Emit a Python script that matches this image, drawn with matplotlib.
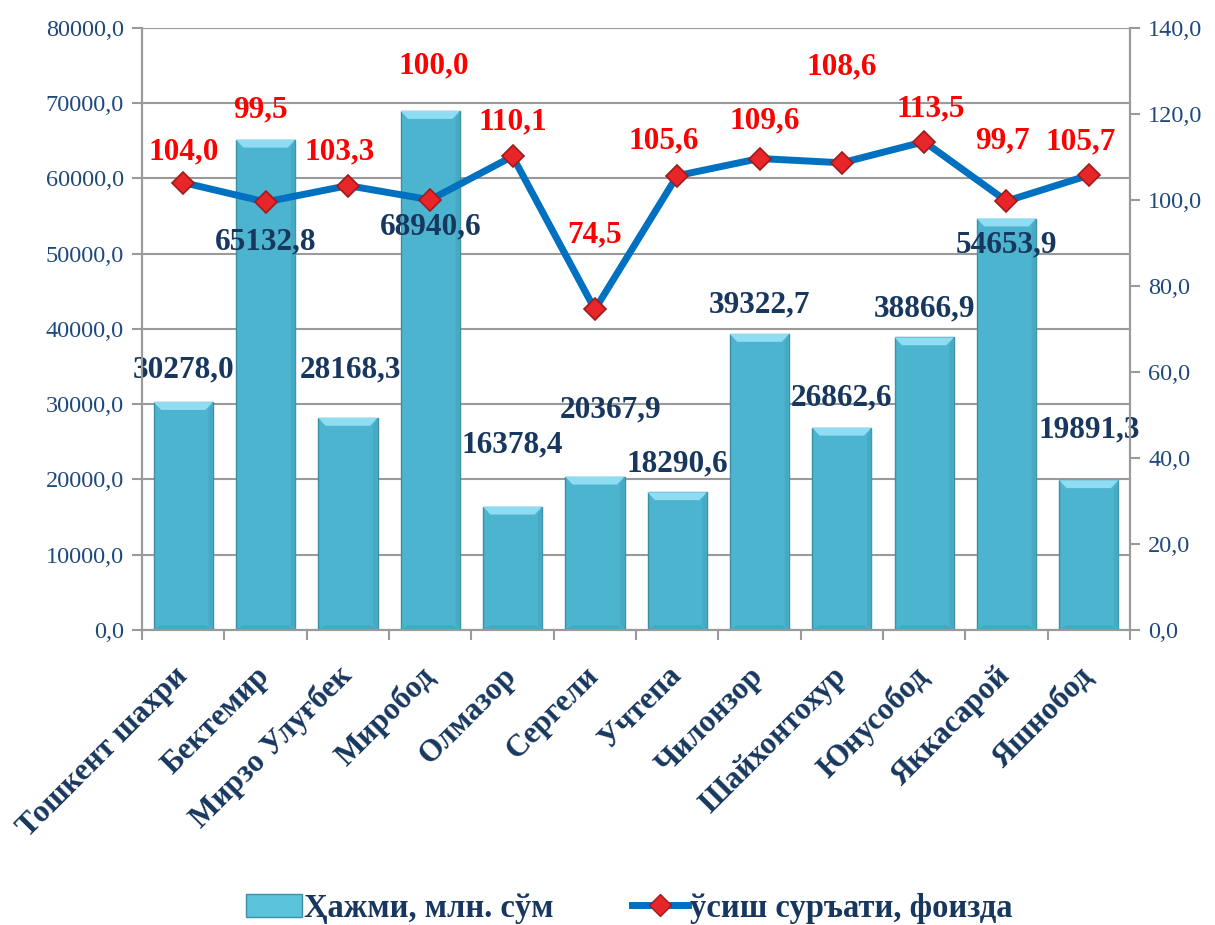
import matplotlib.pyplot as plt
from matplotlib.patches import Polygon, Patch
from matplotlib.lines import Line2D

plt.rcParams['font.family'] = ['Liberation Serif', 'DejaVu Serif']

districts = ["Тошкент шахри", "Бектемир", "Мирзо Улуғбек", "Миробод", "Олмазор",
             "Сергели", "Учтепа", "Чилонзор", "Шайхонтохур", "Юнусобод",
             "Яккасарой", "Яшнобод"]
volume = [30278.0, 65132.8, 28168.3, 68940.6, 16378.4, 20367.9,
          18290.6, 39322.7, 26862.6, 38866.9, 54653.9, 19891.3]
growth = [104.0, 99.5, 103.3, 100.0, 110.1, 74.5,
          105.6, 109.6, 108.6, 113.5, 99.7, 105.7]

bar_label = "Ҳажми, млн. сўм"
line_label = "ўсиш суръати, фоизда"

# label offsets in pixels (x, y) relative to bar top / marker
vol_off = [(0, 32), (0, -102), (3, 48), (0, -116), (0, 62), (16, 67),
           (0, 28), (0, 29), (0, 30), (0, 28), (0, -26), (0, 50)]
gr_off = [(0, 31), (-5, 92), (-8, 34), (4, 134), (0, 34), (0, 75),
          (-14, 35), (5, 38), (0, 96), (7, 33), (-4, 60), (-8, 33)]

navy = '#17375E'
tick_col = '#1F497D'
grid_col = '#9A9A9A'

fig = plt.figure(figsize=(12.15, 9.25), dpi=100)
ax = fig.add_axes([0.117, 0.319, 0.813, 0.651])
ax2 = ax.twinx()

x = list(range(len(districts)))
bw = 0.72
bars = ax.bar(x, volume, width=bw, color='#4DB4D0', edgecolor='#3C8FA6', linewidth=1.0, zorder=3)

# bevel on top and bottom of bars
dx = 0.09
dy = 1050
for b in bars:
    x0 = b.get_x()
    x1 = x0 + b.get_width()
    top = b.get_height()
    ax.add_patch(Polygon([(x0, top), (x1, top), (x1 - dx, top - dy), (x0 + dx, top - dy)],
                         closed=True, facecolor='#8FDDF2', edgecolor='none', zorder=4))
    ax.add_patch(Polygon([(x0, 0), (x1, 0), (x1 - dx, dy * 0.6), (x0 + dx, dy * 0.6)],
                         closed=True, facecolor='#45A8C3', edgecolor='none', zorder=4))
    ax.add_patch(Polygon([(x1, 0), (x1, top), (x1 - dx * 0.6, top - dy), (x1 - dx * 0.6, dy * 0.6)],
                         closed=True, facecolor='#46AAC5', edgecolor='none', zorder=4))

for i, v in enumerate(volume):
    ax.annotate(f"{v:.1f}".replace('.', ','), (i, v), xytext=vol_off[i], textcoords='offset pixels',
                ha='center', va='center', fontsize=22.5, fontweight='bold', color=navy, zorder=6)

ax.set_xlim(-0.5, len(districts) - 0.5)
ax.set_ylim(0, 80000)
ax.set_yticks(range(0, 80001, 10000))
ax.set_yticklabels([f"{t},0" for t in range(0, 80001, 10000)])
ax.yaxis.grid(True, color=grid_col, linewidth=1.5, zorder=0)
ax.set_axisbelow(True)

ax.set_xticks(x)
ax.set_xticklabels(districts, rotation=45, ha='right', va='center', rotation_mode='anchor',
                   fontsize=22.5, fontweight='bold', color=navy)
ax.set_xticks([i - 0.5 for i in range(len(districts) + 1)], minor=True)
ax.tick_params(axis='x', which='major', length=0, pad=30)
ax.tick_params(axis='x', which='minor', length=7, width=1.5, color=grid_col, direction='out')
ax.tick_params(axis='y', length=7, width=1.5, color=grid_col, labelsize=17.5, labelcolor=tick_col, pad=6)

ax2.plot(x, growth, color='#0070C0', linewidth=5, marker='D', markersize=11,
         markerfacecolor='#E8262A', markeredgecolor='#9E1B1B', markeredgewidth=1.2, zorder=5)
for i, g in enumerate(growth):
    ax2.annotate(f"{g:.1f}".replace('.', ','), (i, g), xytext=gr_off[i], textcoords='offset pixels',
                 ha='center', va='center', fontsize=22.5, fontweight='bold', color='#FF0000', zorder=6)
ax2.set_ylim(0, 140)
ax2.set_yticks(range(0, 141, 20))
ax2.set_yticklabels([f"{t},0" for t in range(0, 141, 20)])
ax2.tick_params(axis='y', length=7, width=1.5, color=grid_col, labelsize=17.5, labelcolor=tick_col, pad=6)

for a in (ax, ax2):
    a.spines['top'].set_visible(False)
    for s in ('left', 'right', 'bottom'):
        a.spines[s].set_color(grid_col)
        a.spines[s].set_linewidth(1.5)

handles = [Patch(facecolor='#5CC3DD', edgecolor='#3C8FA6'),
           Line2D([0], [0], color='#0070C0', linewidth=5, marker='D', markersize=11,
                  markerfacecolor='#E8262A', markeredgecolor='#9E1B1B')]
fig.legend(handles, [bar_label, line_label], loc='center', bbox_to_anchor=(0.518, 0.018), ncol=2,
           frameon=False, prop={'size': 23.5, 'weight': 'bold'}, labelcolor=navy,
           handlelength=1.7, handletextpad=0.08, columnspacing=2.4)

fig.savefig("out.png", dpi=100)
